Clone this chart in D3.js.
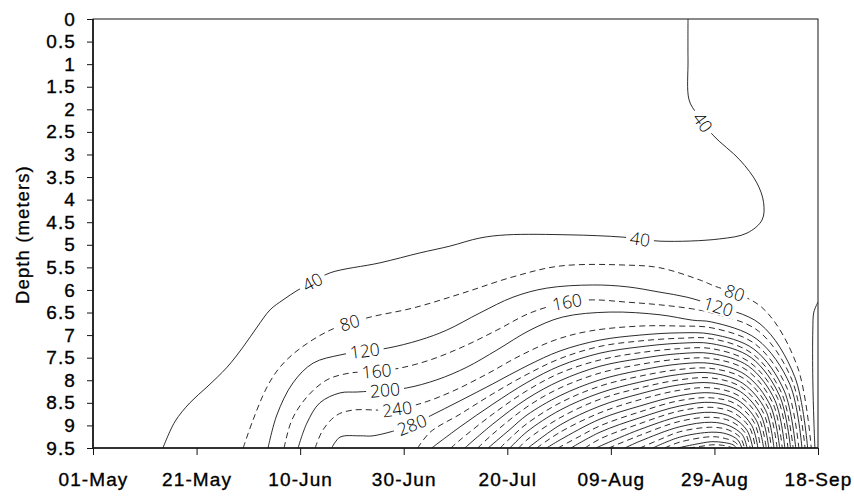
<!DOCTYPE html>
<html><head><meta charset="utf-8">
<script src="https://cdn.jsdelivr.net/npm/d3@7"></script>
<style>body{margin:0;background:#fff}svg{display:block}</style>
</head><body>
<svg id="chart" width="854" height="497"></svg>
<script>
// ---- data ----
const dayTicks = [0, 20, 40, 60, 80, 100, 120, 140];
const dayTickLabels = ["01-May", "21-May", "10-Jun", "30-Jun", "20-Jul", "09-Aug", "29-Aug", "18-Sep"];
const depthTicks = [0, 0.5, 1, 1.5, 2, 2.5, 3, 3.5, 4, 4.5, 5, 5.5, 6, 6.5, 7, 7.5, 8, 8.5, 9, 9.5];
const depthTickLabels = ["0", "0.5", "1", "1.5", "2", "2.5", "3", "3.5", "4", "4.5", "5", "5.5", "6", "6.5", "7", "7.5", "8", "8.5", "9", "9.5"];

// contour level of each line
const contourLevels = [40, 40, 80, 120, 160, 200, 240, 280, 320, 360, 400, 440, 480, 520, 560, 600,
  640, 680, 720, 760, 800, 840, 880, 920, 960, 1000, 1040, 1080, 1120, 1160, 1200];

// points of each line: [days since 01-May, depth in meters]
const contourPoints = [
  [[13.5,9.5],[15.8,8.92],[18.7,8.50],[22.0,8.15],[25.9,7.71],[29.0,7.26],[31.7,6.82],[34.2,6.44],[36.7,6.22],[39.6,6.0],[42.5,5.82],[45.8,5.62],[55.4,5.40],[63.1,5.18],[68.9,5.03],[74.7,4.85],[79.9,4.78],[92.1,4.78],[102.3,4.83],[109.5,4.92],[121.0,4.87],[126.3,4.74],[129.2,4.45],[129.5,4.07],[128.2,3.63],[124.9,3.12],[119.7,2.57],[116.6,2.10],[115.1,1.79],[114.9,0.91],[114.9,0]],
  [[140.0,6.27],[139.2,6.49],[139.0,6.89],[139.0,7.99],[139.2,8.88],[139.4,9.5]],
  [[29.0,9.5],[30.9,8.88],[33.6,8.15],[36.1,7.71],[39.6,7.33],[45.8,6.89],[52.9,6.62],[61.8,6.40],[71.4,6.07],[81.1,5.71],[90.2,5.47],[103.1,5.45],[109.5,5.51],[117.2,5.78],[119.5,5.89],[129.1,6.38],[136.0,7.69],[138.7,9.5]],
  [[33.8,9.5],[35.5,8.77],[38.6,8.06],[42.5,7.62],[47.7,7.44],[52.5,7.35],[56.8,7.29],[63.1,7.11],[68.3,6.89],[74.7,6.51],[81.1,6.16],[87.6,5.96],[96.5,5.89],[103.1,5.93],[109.5,6.05],[114.7,6.16],[119.5,6.33],[128.8,6.75],[135.5,7.92],[138.0,9.5]],
  [[36.9,9.5],[38.4,8.88],[41.3,8.37],[45.2,7.99],[49.6,7.84],[54.8,7.80],[59.3,7.73],[65.1,7.55],[71.4,7.26],[78.0,6.89],[84.4,6.51],[91.5,6.27],[96.5,6.22],[103.1,6.27],[109.5,6.33],[115.8,6.42],[119.5,6.51],[128.5,6.91],[135.0,8.00],[137.5,9.5]],
  [[39.6,9.5],[41.3,8.95],[43.8,8.50],[47.7,8.28],[51.0,8.26],[56.4,8.22],[60.6,8.17],[66.4,7.99],[72.2,7.71],[78.0,7.33],[84.4,6.89],[90.7,6.60],[99.8,6.49],[109.5,6.55],[115.8,6.67],[119.5,6.71],[128.2,7.09],[134.6,8.10],[136.9,9.5]],
  [[42.9,9.5],[44.4,9.10],[47.1,8.77],[50.2,8.66],[55.4,8.66],[58.7,8.64],[63.7,8.50],[69.5,8.24],[76.1,7.86],[82.4,7.46],[89.2,7.11],[95.9,6.91],[105.6,6.80],[113.3,6.80],[119.5,6.84],[127.9,7.20],[134.0,8.17],[136.3,9.5]],
  [[46.1,9.5],[47.7,9.26],[51.6,9.23],[54.1,9.23],[61.6,8.99],[65.1,8.79],[70.8,8.46],[77.2,8.08],[83.8,7.68],[90.2,7.35],[97.9,7.11],[105.6,7.00],[113.3,6.95],[119.5,6.98],[127.6,7.31],[133.5,8.24],[135.7,9.5]],
  [[62.7,9.5],[65.1,9.15],[70.9,8.75],[77.2,8.30],[83.8,7.87],[90.2,7.52],[97.9,7.25],[105.6,7.13],[113.3,7.07],[119.5,7.08],[127.3,7.41],[133.0,8.29],[135.2,9.5]],
  [[65.4,9.5],[70.9,9.03],[77.2,8.53],[83.8,8.05],[90.2,7.68],[97.9,7.40],[105.6,7.26],[113.3,7.18],[119.5,7.19],[127.1,7.50],[132.6,8.35],[134.7,9.5]],
  [[69.1,9.5],[70.9,9.32],[77.2,8.75],[83.8,8.23],[90.2,7.84],[97.9,7.55],[105.6,7.39],[113.3,7.30],[119.5,7.30],[126.8,7.60],[132.2,8.40],[134.2,9.5]],
  [[71.8,9.5],[77.2,8.97],[83.8,8.41],[90.2,8.01],[97.9,7.69],[105.6,7.52],[113.3,7.41],[119.5,7.41],[126.6,7.69],[131.7,8.45],[133.6,9.5]],
  [[74.3,9.5],[77.2,9.19],[83.8,8.59],[90.2,8.17],[97.9,7.84],[105.6,7.65],[113.3,7.53],[119.5,7.52],[126.3,7.78],[131.3,8.51],[133.1,9.5]],
  [[76.3,9.5],[80.5,9.09],[83.8,8.77],[90.2,8.34],[97.9,7.99],[105.6,7.78],[113.3,7.64],[119.5,7.63],[126.0,7.88],[130.8,8.56],[132.6,9.5]],
  [[78.6,9.5],[80.5,9.29],[83.8,8.96],[90.2,8.50],[97.9,8.13],[105.6,7.91],[113.3,7.76],[119.5,7.74],[125.8,7.97],[130.4,8.62],[132.1,9.5]],
  [[80.5,9.5],[83.8,9.14],[90.2,8.66],[97.9,8.28],[105.6,8.04],[113.3,7.87],[119.5,7.84],[125.5,8.07],[129.9,8.67],[131.5,9.5]],
  [[82.2,9.5],[83.8,9.32],[90.2,8.83],[97.9,8.42],[105.6,8.17],[113.3,7.99],[119.5,7.95],[125.3,8.16],[129.5,8.73],[131.0,9.5]],
  [[84.0,9.5],[90.2,8.99],[97.9,8.57],[105.6,8.30],[113.3,8.10],[119.5,8.06],[125.0,8.25],[129.0,8.78],[130.5,9.5]],
  [[85.7,9.5],[90.2,9.15],[97.9,8.72],[105.6,8.43],[113.3,8.22],[119.5,8.17],[124.8,8.35],[128.6,8.84],[130.0,9.5]],
  [[87.6,9.5],[90.2,9.32],[97.9,8.86],[105.6,8.57],[113.3,8.34],[119.5,8.28],[124.5,8.44],[128.1,8.89],[129.5,9.5]],
  [[89.8,9.5],[94.0,9.24],[97.9,9.01],[105.6,8.70],[113.3,8.45],[119.5,8.39],[124.2,8.53],[127.7,8.94],[128.9,9.5]],
  [[92.3,9.5],[97.9,9.15],[105.6,8.83],[113.3,8.57],[119.5,8.49],[124.0,8.63],[127.2,9.00],[128.4,9.5]],
  [[95.0,9.5],[97.9,9.30],[105.6,8.96],[113.3,8.68],[119.5,8.60],[123.7,8.72],[126.8,9.05],[127.9,9.5]],
  [[97.1,9.5],[101.7,9.27],[105.6,9.09],[113.3,8.80],[119.5,8.71],[123.4,8.82],[126.3,9.11],[127.4,9.5]],
  [[99.6,9.5],[105.6,9.22],[113.3,8.91],[119.5,8.82],[123.2,8.91],[125.9,9.16],[126.9,9.5]],
  [[102.7,9.5],[105.6,9.35],[113.3,9.03],[119.5,8.93],[122.9,9.01],[125.4,9.21],[126.3,9.5]],
  [[105.6,9.5],[109.5,9.31],[113.3,9.14],[119.5,9.04],[122.7,9.10],[125.0,9.27],[125.8,9.5]],
  [[108.1,9.5],[113.3,9.26],[119.5,9.15],[122.4,9.19],[124.5,9.32],[125.3,9.5]],
  [[110.4,9.5],[113.3,9.37],[119.5,9.25],[122.1,9.29],[124.1,9.38],[124.8,9.5]],
  [[112.9,9.5],[116.2,9.42],[119.5,9.36],[121.9,9.38],[123.6,9.43],[124.3,9.5]],
  [[115.1,9.5],[117.6,9.46],[119.5,9.43],[121.6,9.44],[123.7,9.5]]
];

// contour labels: level and approximate [day, depth] where the label sits
const labelLevels = [40, 40, 40, 80, 80, 120, 120, 160, 160, 200, 240, 280];
const labelAnchors = [[42.5,5.85],[105.6,4.89],[117.8,2.28],[49.6,6.73],[123.9,6.07],[52.5,7.37],[120.7,6.40],[54.8,7.82],[91.5,6.27],[56.4,8.22],[58.7,8.64],[61.6,8.99]];

// ---- chart ----
const svg = d3.select("#chart");
const x = d3.scaleLinear().domain([0, 140]).range([93, 818]);
const y = d3.scaleLinear().domain([0, 9.5]).range([19, 448]);
const ink = "#141414";
const tickFont = "'Liberation Sans', Arial, Helvetica, sans-serif";
const labelFont = "'Open Sans', 'DejaVu Sans', sans-serif";

const defs = svg.append("defs");
defs.append("clipPath").attr("id", "plotClip").append("rect")
  .attr("x", x(0)).attr("y", y(0)).attr("width", x(140) - x(0)).attr("height", y(9.5) - y(0));
const mask = defs.append("mask").attr("id", "labelMask")
  .attr("maskUnits", "userSpaceOnUse").attr("x", 0).attr("y", 0).attr("width", 854).attr("height", 497);
mask.append("rect").attr("x", 0).attr("y", 0).attr("width", 854).attr("height", 497).attr("fill", "#fff");

const lineGen = d3.line().x(d => x(d[0])).y(d => y(d[1])).curve(d3.curveCatmullRom.alpha(0.5));

const gLines = svg.append("g").attr("clip-path", "url(#plotClip)")
  .append("g").attr("mask", "url(#labelMask)");
const paths = contourPoints.map((pts, i) => gLines.append("path")
  .attr("d", lineGen(pts))
  .attr("fill", "none")
  .attr("stroke", ink)
  .attr("stroke-width", 0.9)
  .attr("stroke-dasharray", (contourLevels[i] / 40) % 2 === 0 ? "6,4" : null)
  .node());

// contour labels placed on their line near the anchor
const gLab = svg.append("g");
labelLevels.forEach((lev, k) => {
  const ax = x(labelAnchors[k][0]), ay = y(labelAnchors[k][1]);
  let best = null;
  paths.forEach((p, i) => {
    if (contourLevels[i] !== lev) return;
    const L = p.getTotalLength();
    for (let s = 0; s <= L; s += 0.5) {
      const pt = p.getPointAtLength(s);
      const d2 = (pt.x - ax) ** 2 + (pt.y - ay) ** 2;
      if (!best || d2 < best.d2) best = {d2, s, p, L, pt};
    }
  });
  const a = best.p.getPointAtLength(Math.max(0, best.s - 6));
  const b = best.p.getPointAtLength(Math.min(best.L, best.s + 6));
  let ang = Math.atan2(b.y - a.y, b.x - a.x) * 180 / Math.PI;
  if (ang > 90) ang -= 180;
  if (ang < -90) ang += 180;
  const t = gLab.append("text")
    .attr("transform", `translate(${best.pt.x},${best.pt.y}) rotate(${ang})`)
    .attr("text-anchor", "middle").attr("dy", "0.36em")
    .attr("font-family", labelFont).attr("font-weight", 300).attr("font-size", 17.5)
    .attr("fill", "#000").text(lev);
  const w = t.node().getComputedTextLength() + 8;
  mask.append("rect")
    .attr("x", -w / 2).attr("y", -8).attr("width", w).attr("height", 16)
    .attr("transform", `translate(${best.pt.x},${best.pt.y}) rotate(${ang})`)
    .attr("fill", "#000");
});

// axes
const yAxis = d3.axisLeft(y).tickValues(depthTicks).tickSize(6).tickPadding(11)
  .tickFormat((d, i) => depthTickLabels[i]);
const gy = svg.append("g").attr("transform", `translate(${x(0)},0)`).call(yAxis);
const xAxis = d3.axisBottom(x).tickValues(dayTicks).tickSize(7).tickPadding(18)
  .tickFormat((d, i) => dayTickLabels[i]);
const gx = svg.append("g").attr("transform", `translate(0,${y(9.5)})`).call(xAxis);
[gx, gy].forEach(g => {
  g.select(".domain").remove();
  g.selectAll(".tick line").attr("stroke", ink).attr("stroke-width", 1);
  g.selectAll(".tick text").attr("fill", "#000").attr("font-family", tickFont)
    .attr("font-size", 19).attr("letter-spacing", "1.1px")
    .attr("stroke", "#000").attr("stroke-width", 0.35);
});

// frame
svg.append("rect").attr("x", x(0)).attr("y", y(0)).attr("width", x(140) - x(0)).attr("height", y(9.5) - y(0))
  .attr("fill", "none").attr("stroke", ink).attr("stroke-width", 1);
svg.append("line").attr("x1", x(0)).attr("x2", x(0)).attr("y1", y(0)).attr("y2", y(9.5))
  .attr("stroke", ink).attr("stroke-width", 1.6);
svg.append("line").attr("x1", x(0)).attr("x2", x(140)).attr("y1", y(9.5)).attr("y2", y(9.5))
  .attr("stroke", ink).attr("stroke-width", 1.6);

svg.append("text")
  .attr("transform", `translate(29,${(y(0) + y(9.5)) / 2 + 1}) rotate(-90)`)
  .attr("text-anchor", "middle").attr("font-family", tickFont).attr("font-size", 18.5)
  .attr("letter-spacing", "1.1px").attr("fill", "#000")
  .attr("stroke", "#000").attr("stroke-width", 0.3).text("Depth (meters)");
</script>
</body></html>
